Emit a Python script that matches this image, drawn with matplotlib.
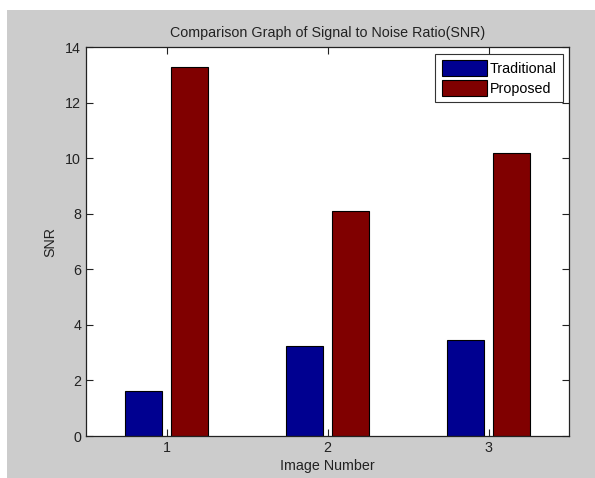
import matplotlib
matplotlib.use("Agg")
import matplotlib.pyplot as plt
import numpy as np
from matplotlib.patches import Rectangle

categories = [1, 2, 3]
traditional = [1.63, 3.24, 3.45]
proposed = [13.27, 8.09, 10.18]
series_names = ["Traditional", "Proposed"]
yticks = [0, 2, 4, 6, 8, 10, 12, 14]

plt.rcParams['font.family'] = ['Liberation Sans', 'DejaVu Sans']
fs = 10.3

fig = plt.figure(figsize=(5.95, 4.78), dpi=100, facecolor='white')
fig.patches.append(Rectangle((7/595, 0), 1 - 7/595, 468/478, transform=fig.transFigure,
                             facecolor='#cccccc', edgecolor='none', zorder=-10))
ax = fig.add_axes([86/595, 1 - 436/478, (569 - 86)/595, (436 - 47)/478])
ax.set_facecolor('white')

x = np.array(categories, dtype=float)
w = 0.23
off = 0.142
ax.bar(x - off, traditional, w, color='#000090', edgecolor='black', linewidth=0.8, label=series_names[0])
ax.bar(x + off, proposed, w, color='#800000', edgecolor='black', linewidth=0.8, label=series_names[1])

ax.set_xlim(0.5, 3.5)
ax.set_ylim(0, 14)
ax.set_xticks(categories)
ax.set_yticks(yticks)
ax.tick_params(direction='in', length=5, width=0.8, top=True, right=True, labelsize=fs, colors='#222222')
for s in ax.spines.values():
    s.set_linewidth(0.9)
    s.set_color('#222222')

ax.set_title('Comparison Graph of Signal to Noise Ratio(SNR)', fontsize=fs, pad=7, color='#222222')
ax.set_xlabel('Image Number', fontsize=fs, labelpad=3, color='#222222')
ax.set_ylabel('SNR', fontsize=fs, labelpad=5.5, color='#222222')

leg = ax.legend(loc='upper right', bbox_to_anchor=(563/595, 1 - 54/478), bbox_transform=fig.transFigure,
                fancybox=False, framealpha=1, edgecolor='#333333', fontsize=fs,
                handlelength=3.15, handleheight=1.3, handletextpad=0.2, borderpad=0.45,
                labelspacing=0.3, borderaxespad=0)
leg.get_frame().set_linewidth(0.8)

fig.savefig('out.png', dpi=100)
